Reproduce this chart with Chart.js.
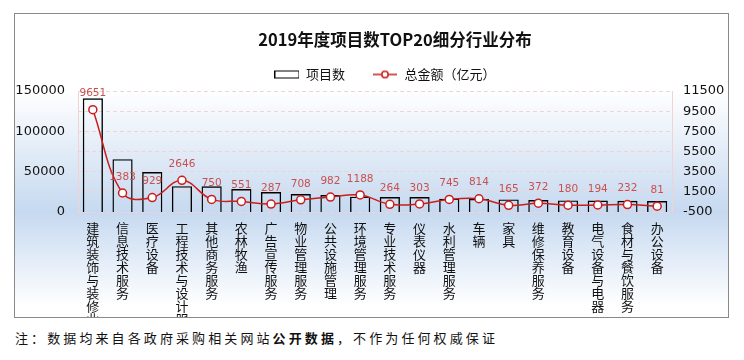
<!DOCTYPE html>
<html>
<head>
<meta charset="utf-8">
<script src="https://cdn.jsdelivr.net/npm/chart.js@4.4.1/dist/chart.umd.min.js"></script>
<style>
  html, body { margin: 0; padding: 0; background: #fff; }
  .box {
    position: absolute; left: 14px; top: 13px; width: 713px; height: 303px;
    border: 1px solid #8a8a8a; overflow: hidden;
    background: linear-gradient(to bottom, #fff 0px, #fff 76px, #c6d9f0 198px, #fff 292px);
  }
  .box canvas { position: absolute; left: 0; top: 0; }
  .title {
    position: absolute; left: 0; width: 790px; top: 29px; text-align: center;
    font: bold 16.5px "Noto Sans CJK SC"; line-height: 20px; color: #111;
  }
  .note {
    position: absolute; left: 15px; top: 330px; white-space: nowrap;
    font: 13px "Noto Sans CJK SC"; line-height: 16px; letter-spacing: 3.1px; color: #111;
  }
</style>
</head>
<body>
<div class="box"><canvas id="chart" width="740" height="303"></canvas></div>
<div class="title">2019年度项目数TOP20细分行业分布</div>
<div class="note">注：数据均来自各政府采购相关网站<b>公开数据</b>，不作为任何权威保证</div>
<script>
const categories = ["建筑装饰与装修业", "信息技术服务", "医疗设备", "工程技术与设计服务", "其他商务服务",
  "农林牧渔", "广告宣传服务", "物业管理服务", "公共设施管理", "环境管理服务",
  "专业技术服务", "仪表仪器", "水利管理服务", "车辆", "家具",
  "维修保养服务", "教育设备", "电气设备与电器", "食材与餐饮服务", "办公设备"];
const projectCounts = [141000, 65500, 49500, 32000, 31800, 28400, 24700, 22300, 21000, 19000,
  18600, 18500, 16500, 16200, 15600, 14800, 14300, 14200, 13900, 13500];
const totalAmounts = [9651, 1383, 929, 2646, 750, 551, 287, 708, 982, 1188,
  264, 303, 745, 814, 165, 372, 180, 194, 232, 81];
const leftTicks = [0, 50000, 100000, 150000];
const rightTicks = [-500, 1500, 3500, 5500, 7500, 9500, 11500];

const red = "#cc1d1d";
const gridPink = "#f1d3d3";

function legendIcon(kind) {
  const c = document.createElement("canvas");
  c.width = 25; c.height = 10;
  const g = c.getContext("2d");
  if (kind === "bar") {
    g.strokeStyle = "#000"; g.lineWidth = 1;
    g.strokeRect(0.5, 1.5, 24, 7);
  } else {
    g.strokeStyle = red; g.lineWidth = 1.5;
    g.beginPath(); g.moveTo(0, 5); g.lineTo(24, 5); g.stroke();
    g.beginPath(); g.arc(12, 5, 3.2, 0, Math.PI * 2);
    g.fillStyle = "#fff"; g.fill(); g.stroke();
  }
  return c;
}

const valueLabels = {
  id: "valueLabels",
  afterDatasetsDraw(chart) {
    const meta = chart.getDatasetMeta(1);
    const ctx = chart.ctx;
    ctx.save();
    ctx.font = '10.5px "DejaVu Sans"';
    ctx.fillStyle = "#c9504e";
    ctx.textAlign = "center";
    ctx.textBaseline = "middle";
    meta.data.forEach((pt, i) => ctx.fillText(totalAmounts[i], pt.x, pt.y - 16));
    ctx.restore();
  }
};

new Chart(document.getElementById("chart"), {
  data: {
    labels: categories,
    datasets: [
      {
        type: "bar", label: "项目数", data: projectCounts, yAxisID: "y", order: 1,
        backgroundColor: "rgba(0,0,0,0)", borderColor: "#000", borderWidth: 1.4,
        barPercentage: 0.68, categoryPercentage: 1
      },
      {
        type: "line", label: "总金额（亿元）", data: totalAmounts, yAxisID: "y1", order: 0,
        borderColor: red, borderWidth: 1.5, tension: 0.4,
        pointRadius: 4, pointBackgroundColor: "#fff", pointBorderColor: red, pointBorderWidth: 1.5
      }
    ]
  },
  options: {
    responsive: false,
    animation: false,
    devicePixelRatio: 1,
    layout: { padding: { top: 20.5, left: 0, right: 0, bottom: 0 } },
    plugins: {
      tooltip: { enabled: false },
      title: { display: false },
      legend: {
        position: "top",
        labels: {
          usePointStyle: true,
          pointStyleWidth: 25,
          padding: 28,
          color: "#111",
          font: { family: "Noto Sans CJK SC", size: 13 },
          generateLabels: (chart) => chart.data.datasets.map((ds, i) => ({
            text: ds.label,
            datasetIndex: i,
            pointStyle: legendIcon(ds.type),
            fontColor: "#111",
            hidden: false,
            lineWidth: 0
          }))
        }
      }
    },
    scales: {
      x: {
        grid: { display: false, drawTicks: false },
        border: { display: false },
        ticks: {
          autoSkip: false, maxRotation: 0, minRotation: 0, padding: 9.5,
          color: "#111",
          font: { family: "Noto Sans CJK SC", size: 13, lineHeight: 1 },
          callback: function (v) { return this.getLabelForValue(v).split(""); }
        },
        afterFit: (s) => { s.height = 105; }
      },
      y: {
        position: "left", min: 0, max: 150000,
        grid: { display: false, drawTicks: false },
        border: { display: true, color: gridPink, dash: [4, 3], width: 1 },
        ticks: {
          padding: 13, color: "#111", font: { family: "DejaVu Sans", size: 13 },
          callback: (v) => String(v)
        },
        afterBuildTicks: (s) => { s.ticks = leftTicks.map((v) => ({ value: v })); },
        afterFit: (s) => { s.width = 63; s.paddingTop = 77; }
      },
      y1: {
        position: "right", min: -500, max: 11500,
        grid: { color: gridPink, drawTicks: false },
        border: { display: true, color: gridPink, dash: [4, 3], width: 1 },
        ticks: {
          padding: 11, color: "#111", font: { family: "DejaVu Sans", size: 13 },
          callback: (v) => String(v)
        },
        afterBuildTicks: (s) => { s.ticks = rightTicks.map((v) => ({ value: v })); },
        afterFit: (s) => { s.width = 83; s.paddingTop = 77; }
      }
    }
  },
  plugins: [valueLabels]
});
</script>
</body>
</html>
